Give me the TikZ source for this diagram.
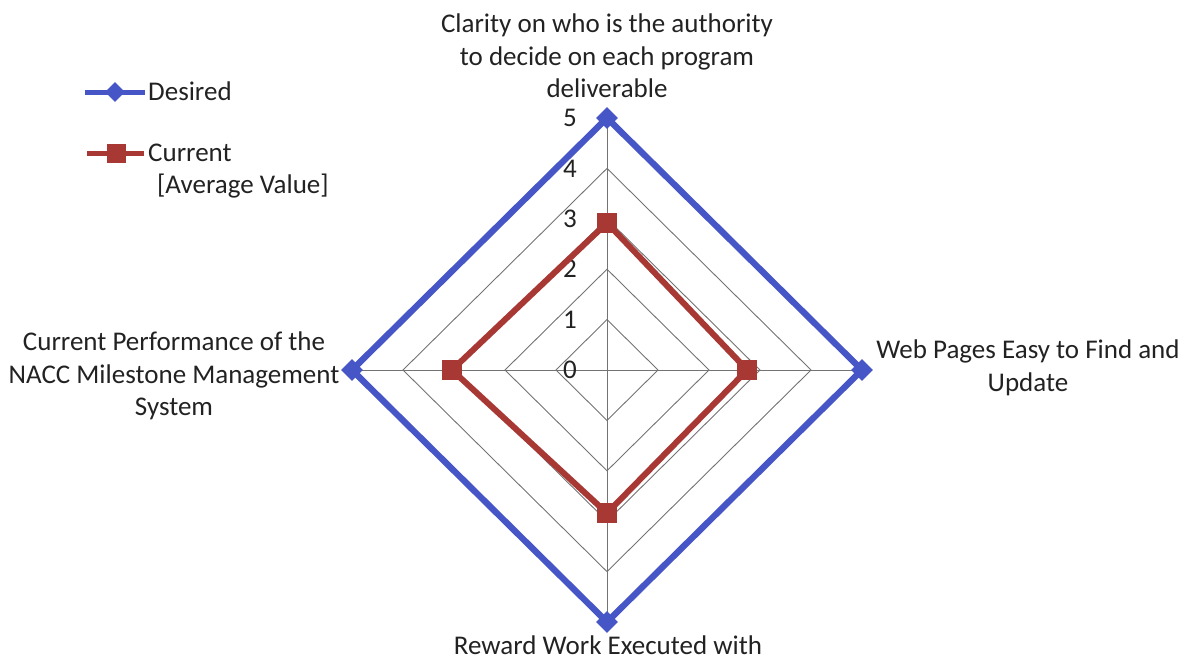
\documentclass[tikz,border=0pt]{standalone}
\usepackage{fontspec}
\setmainfont{Carlito}
\usetikzlibrary{shapes.geometric}
\definecolor{desiredblue}{RGB}{70,86,198}
\definecolor{currentred}{RGB}{168,56,52}
\definecolor{gridgray}{RGB}{115,115,115}
\definecolor{txt}{RGB}{34,34,34}
\tikzset{
  lbl/.style={font=\fontsize{27}{32.3}\selectfont, align=center, inner sep=0pt, text=txt},
  ticklbl/.style={font=\fontsize{27}{32.3}\selectfont, inner sep=0pt, text=txt, anchor=east},
  gridln/.style={draw=gridgray, line width=0.9pt},
  desiredln/.style={draw=desiredblue, line width=6.3pt},
  currentln/.style={draw=currentred, line width=6pt},
  dmark/.style={diamond, fill=desiredblue, minimum size=22pt, inner sep=0pt},
  cmark/.style={rectangle, fill=currentred, minimum size=20pt, inner sep=0pt},
}
% chart centre and scale per unit of value
\def\cx{607}\def\cy{370}\def\ux{51}\def\uy{50.4}
\begin{document}
\begin{tikzpicture}[x=1pt,y=-1pt]
\useasboundingbox (0,0) rectangle (1188,661);

% spider grid
\foreach \r in {1,...,5}
  \draw[gridln] ({\cx},{\cy-\r*\uy}) -- ({\cx+\r*\ux},{\cy}) -- ({\cx},{\cy+\r*\uy}) -- ({\cx-\r*\ux},{\cy}) -- cycle;
\coordinate (axT) at ({\cx},{\cy-5*\uy});
\coordinate (axB) at ({\cx},{\cy+5*\uy});
\coordinate (axL) at ({\cx-5*\ux},{\cy});
\coordinate (axR) at ({\cx+5*\ux},{\cy});
\draw[gridln] (axT) -- (axB);
\draw[gridln] (axL) -- (axR);

% value scale
\foreach \r in {0,...,5}
  \node[ticklbl] (t\r) at ({\cx-30},{\cy-\r*\uy}) {\r};

% desired series
\draw[desiredln] (axT) -- (axR) -- (axB) -- (axL) -- cycle;
\foreach \p in {T,R,B,L}
  \node[dmark] (d\p) at (ax\p) {};

% current series (average values)
\coordinate (cT) at ({\cx},{\cy-2.92*\uy});
\coordinate (cR) at ({\cx+2.75*\ux},{\cy});
\coordinate (cB) at ({\cx},{\cy+2.84*\uy});
\coordinate (cL) at ({\cx-3.04*\ux},{\cy});
\draw[currentln] (cT) -- (cR) -- (cB) -- (cL) -- cycle;
\foreach \p in {T,R,B,L}
  \node[cmark] (m\p) at (c\p) {};

% axis titles
\node[lbl, anchor=north] (lt) at (607,14) {Clarity on who is the authority\\to decide on each program\\deliverable};
\node[lbl, anchor=north] (lr) at (1028,340) {Web Pages Easy to Find and\\Update};
\node[lbl, anchor=north] (ll) at (174,332) {Current Performance of the\\NACC Milestone Management\\System};
\node[lbl, anchor=north] (lb) at (608,636) {Reward Work Executed with};

% legend
\coordinate (ld1) at (85,92);
\coordinate (ld2) at (145,92);
\draw[desiredln, line width=5pt] (ld1) -- (ld2);
\node[dmark, minimum size=20pt] (ldm) at (115,92) {};
\node[lbl, anchor=base west] (ldt) at (148,100) {Desired};
\coordinate (lc1) at (87,153);
\coordinate (lc2) at (144,153);
\draw[currentln, line width=5pt] (lc1) -- (lc2);
\node[cmark, minimum size=19pt] (lcm) at (116,153) {};
\node[lbl, anchor=base west] (lct) at (148,161) {Current};
\node[lbl, anchor=base west] (lca) at (157,193) {[Average Value]};
\end{tikzpicture}
\end{document}
